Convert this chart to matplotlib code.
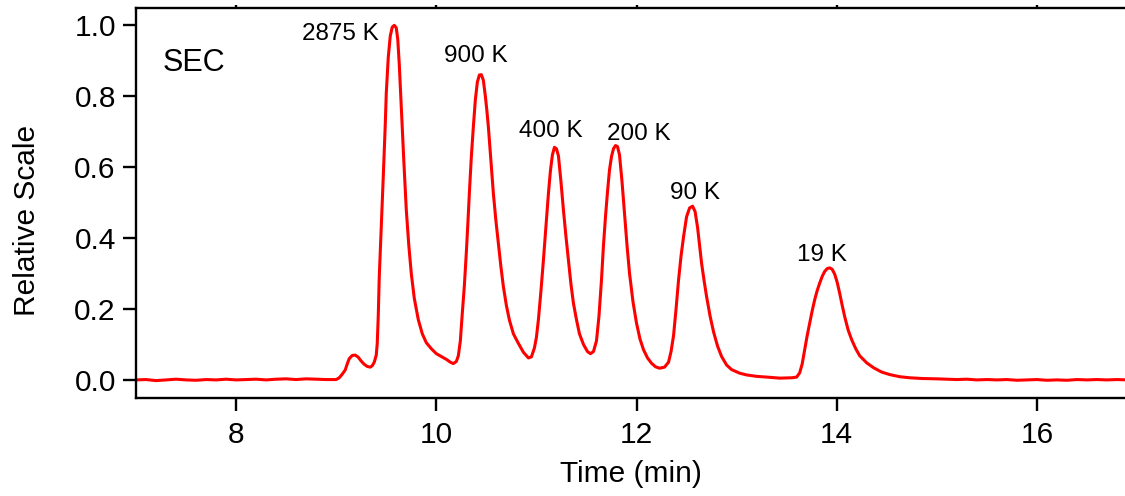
import matplotlib
matplotlib.use("Agg")
import matplotlib.pyplot as plt

plt.rcParams['font.family'] = ['Liberation Sans', 'DejaVu Sans']

# SEC trace: elution time (min) and detector response (relative scale)
time_min = [7.0, 7.1, 7.2, 7.3, 7.4, 7.5, 7.6, 7.7, 7.8, 7.9,
            8.0, 8.1, 8.2, 8.3, 8.4, 8.5, 8.6, 8.7, 8.8, 8.9,
            9.0, 9.03, 9.06, 9.09, 9.11, 9.13, 9.16, 9.19, 9.22, 9.25,
            9.28, 9.31, 9.34, 9.36, 9.38, 9.40, 9.41, 9.42, 9.43, 9.45,
            9.47, 9.49, 9.50, 9.52, 9.54, 9.56, 9.58, 9.60, 9.615, 9.63,
            9.65, 9.675, 9.70, 9.725, 9.75, 9.78, 9.82, 9.86, 9.90, 9.95,
            10.0, 10.05, 10.1, 10.14, 10.17, 10.2, 10.22, 10.24, 10.26, 10.28,
            10.30, 10.315, 10.33, 10.35, 10.37, 10.39, 10.41, 10.43, 10.45, 10.47,
            10.49, 10.505, 10.52, 10.545, 10.57, 10.595, 10.62, 10.645, 10.67, 10.70,
            10.73, 10.77, 10.82, 10.87, 10.92, 10.95, 10.98, 11.0, 11.02, 11.045,
            11.07, 11.095, 11.12, 11.14, 11.16, 11.18, 11.20, 11.22, 11.245, 11.27,
            11.295, 11.32, 11.345, 11.37, 11.40, 11.43, 11.47, 11.51, 11.54, 11.57,
            11.60, 11.625, 11.65, 11.67, 11.69, 11.71, 11.73, 11.75, 11.77, 11.79,
            11.81, 11.83, 11.855, 11.88, 11.905, 11.93, 11.965, 12.00, 12.035, 12.07,
            12.11, 12.15, 12.19, 12.23, 12.28, 12.32, 12.345, 12.37, 12.395, 12.42,
            12.445, 12.47, 12.50, 12.53, 12.56, 12.585, 12.61, 12.63, 12.65, 12.675,
            12.70, 12.735, 12.77, 12.81, 12.85, 12.90, 12.95, 13.03, 13.1, 13.2,
            13.3, 13.43, 13.55, 13.6, 13.63, 13.655, 13.68, 13.705, 13.73, 13.755,
            13.78, 13.805, 13.83, 13.855, 13.88, 13.905, 13.93, 13.955, 13.98, 14.005,
            14.03, 14.055, 14.08, 14.115, 14.15, 14.19, 14.23, 14.30, 14.37, 14.45,
            14.53, 14.63, 14.73, 14.85, 15.0, 15.1, 15.2, 15.3, 15.4, 15.5,
            15.6, 15.7, 15.8, 15.9, 16.0, 16.1, 16.2, 16.3, 16.4, 16.5,
            16.6, 16.7, 16.8, 16.9]
signal = [0.000, 0.001, -0.002, 0.000, 0.002, 0.000, -0.001, 0.001, 0.000, 0.002,
          0.000, 0.001, 0.002, 0.000, 0.002, 0.003, 0.001, 0.003, 0.002, 0.001,
          0.001, 0.006, 0.016, 0.028, 0.045, 0.060, 0.069, 0.070, 0.064, 0.053,
          0.044, 0.038, 0.036, 0.040, 0.050, 0.070, 0.103, 0.180, 0.290, 0.430,
          0.573, 0.720, 0.808, 0.910, 0.970, 0.995, 1.000, 0.993, 0.960, 0.890,
          0.770, 0.620, 0.480, 0.380, 0.300, 0.230, 0.170, 0.130, 0.105, 0.088,
          0.074, 0.066, 0.058, 0.050, 0.046, 0.052, 0.068, 0.110, 0.190, 0.265,
          0.360, 0.440, 0.526, 0.630, 0.714, 0.790, 0.840, 0.860, 0.861, 0.845,
          0.800, 0.760, 0.714, 0.620, 0.526, 0.450, 0.385, 0.320, 0.263, 0.210,
          0.169, 0.130, 0.103, 0.078, 0.062, 0.065, 0.090, 0.120, 0.170, 0.250,
          0.338, 0.430, 0.526, 0.590, 0.635, 0.656, 0.652, 0.632, 0.560, 0.479,
          0.405, 0.338, 0.270, 0.216, 0.170, 0.130, 0.100, 0.080, 0.074, 0.080,
          0.110, 0.180, 0.282, 0.380, 0.460, 0.530, 0.592, 0.630, 0.652, 0.661,
          0.658, 0.635, 0.560, 0.470, 0.380, 0.301, 0.220, 0.160, 0.115, 0.085,
          0.062, 0.047, 0.037, 0.033, 0.036, 0.050, 0.080, 0.125, 0.200, 0.282,
          0.350, 0.404, 0.460, 0.485, 0.490, 0.475, 0.430, 0.380, 0.329, 0.280,
          0.235, 0.180, 0.135, 0.095, 0.066, 0.042, 0.029, 0.019, 0.014, 0.010,
          0.008, 0.005, 0.006, 0.008, 0.020, 0.045, 0.085, 0.125, 0.160, 0.195,
          0.226, 0.252, 0.273, 0.292, 0.306, 0.314, 0.316, 0.312, 0.298, 0.275,
          0.244, 0.210, 0.178, 0.140, 0.113, 0.088, 0.068, 0.048, 0.034, 0.022,
          0.015, 0.009, 0.006, 0.004, 0.003, 0.002, 0.001, 0.002, 0.000, 0.001,
          0.000, 0.001, -0.001, 0.000, 0.001, -0.001, 0.000, -0.001, 0.001, 0.000,
          0.001, 0.000, 0.001, 0.000]

# molecular weight standards, label anchor (time, baseline height)
peak_labels = ['2875 K', '900 K', '400 K', '200 K', '90 K', '19 K']
label_x = [9.04, 10.39, 11.14, 12.02, 12.58, 13.85]
label_y = [0.959, 0.897, 0.685, 0.677, 0.509, 0.336]

fig = plt.figure(figsize=(11.25, 4.96), dpi=100)
ax = fig.add_axes([0.1209, 0.1976, 0.8791, 0.7863])

ax.plot(time_min, signal, color='#ff0000', lw=2.2)

for lab, lx, ly in zip(peak_labels, label_x, label_y):
    ax.text(lx, ly, lab, ha='center', va='baseline', fontsize=17.5)
ax.text(7.27, 0.872, 'SEC', ha='left', va='baseline', fontsize=22)

ax.set_xlim(7.0, 16.88)
ax.set_ylim(-0.051, 1.049)
ax.set_xticks([8, 10, 12, 14, 16])
ax.set_yticks([0.0, 0.2, 0.4, 0.6, 0.8, 1.0])
ax.set_yticklabels(['0.0', '0.2', '0.4', '0.6', '0.8', '1.0'])

ax.spines['right'].set_visible(False)
for s in ['left', 'bottom', 'top']:
    ax.spines[s].set_linewidth(1.7)
ax.tick_params(axis='both', direction='out', length=9.5, width=1.7,
               labelsize=21.5, pad=5)
ax.tick_params(axis='x', top=True, pad=7)
# short inward ticks along the top edge
for t in ax.xaxis.get_major_ticks():
    t.tick2line.set_markersize(2.5)

ax.set_xlabel('Time (min)', fontsize=21.5, labelpad=8)
ax.set_ylabel('Relative Scale', fontsize=21.5)
ax.yaxis.set_label_coords(-0.096, 0.454)

fig.savefig('out.png', dpi=100)
